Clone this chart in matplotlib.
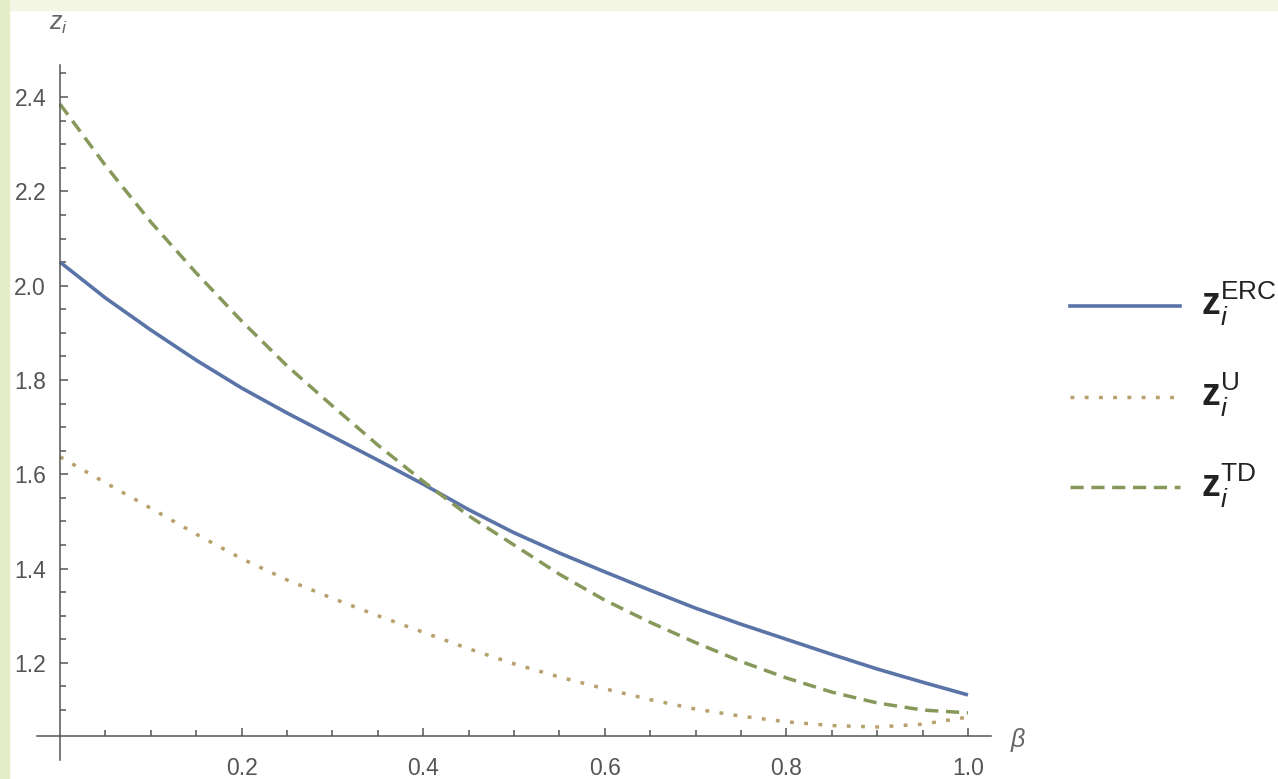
import matplotlib
matplotlib.use('Agg')
import matplotlib.pyplot as plt
from matplotlib.lines import Line2D
from matplotlib.patches import Rectangle
from matplotlib.ticker import FixedLocator

# values
beta = [0.0, 0.05, 0.1, 0.15, 0.2, 0.25, 0.3, 0.35, 0.4, 0.45, 0.5,
        0.55, 0.6, 0.65, 0.7, 0.75, 0.8, 0.85, 0.9, 0.95, 1.0]
z_erc = [2.050, 1.974, 1.906, 1.842, 1.783, 1.730, 1.680, 1.630, 1.579, 1.525, 1.476,
         1.433, 1.393, 1.354, 1.316, 1.282, 1.250, 1.218, 1.187, 1.159, 1.132]
z_u = [1.637, 1.582, 1.528, 1.473, 1.421, 1.376, 1.337, 1.300, 1.265, 1.230, 1.198,
       1.170, 1.145, 1.122, 1.102, 1.087, 1.075, 1.067, 1.064, 1.070, 1.085]
z_td = [2.385, 2.255, 2.135, 2.027, 1.925, 1.830, 1.745, 1.662, 1.585, 1.512, 1.450,
        1.388, 1.333, 1.286, 1.243, 1.203, 1.168, 1.138, 1.115, 1.100, 1.094]

x_ticks = [0.2, 0.4, 0.6, 0.8, 1.0]
x_ticklabels = ['0.2', '0.4', '0.6', '0.8', '1.0']
y_ticks = [1.2, 1.4, 1.6, 1.8, 2.0, 2.2, 2.4]
y_ticklabels = ['1.2', '1.4', '1.6', '1.8', '2.0', '2.2', '2.4']
x_minor = [0.05, 0.1, 0.15, 0.25, 0.3, 0.35, 0.45, 0.5, 0.55,
           0.65, 0.7, 0.75, 0.85, 0.9, 0.95]
y_minor = [1.1, 1.15, 1.25, 1.3, 1.35, 1.45, 1.5, 1.55, 1.65, 1.7, 1.75,
           1.85, 1.9, 1.95, 2.05, 2.1, 2.15, 2.25, 2.3, 2.35, 2.45]

labels = [r'$\mathbf{z}_{i}^{\mathrm{ERC}}$', r'$\mathbf{z}_{i}^{\mathrm{U}}$',
          r'$\mathbf{z}_{i}^{\mathrm{TD}}$']

plt.rcParams['font.family'] = ['Liberation Sans', 'DejaVu Sans']
plt.rcParams['mathtext.fontset'] = 'custom'
plt.rcParams['mathtext.rm'] = 'Liberation Sans'
plt.rcParams['mathtext.it'] = 'Liberation Sans:italic'
plt.rcParams['mathtext.bf'] = 'Liberation Sans:bold'

W, H = 1278, 779
fig = plt.figure(figsize=(W / 100, H / 100), dpi=100, facecolor='white')

# pale slide border (top and left strips)
fig.patches.append(Rectangle((0, 1 - 10 / H), 1, 10 / H, transform=fig.transFigure,
                             color='#f4f7e6', zorder=0))
fig.patches.append(Rectangle((0, 0), 9 / W, 1, transform=fig.transFigure,
                             color='#e3edc6', zorder=0))

ax = fig.add_axes([37.3 / W, 19 / H, (990.7 - 37.3) / W, (760 - 65) / H])
ax.patch.set_alpha(0)
ax.set_xlim(-0.025, 1.025)
ax.set_ylim(0.994, 2.468)

axis_col = '#555555'
for s in ['top', 'right']:
    ax.spines[s].set_visible(False)
ax.spines['left'].set_position(('data', 0))
ax.spines['bottom'].set_position(('data', 1.045))
for s in ['left', 'bottom']:
    ax.spines[s].set_color(axis_col)
    ax.spines[s].set_linewidth(1.1)

ax.set_xticks(x_ticks)
ax.set_xticklabels(x_ticklabels)
ax.set_yticks(y_ticks)
ax.set_yticklabels(y_ticklabels)
ax.xaxis.set_minor_locator(FixedLocator(x_minor))
ax.yaxis.set_minor_locator(FixedLocator(y_minor))
ax.tick_params(which='both', direction='in', color=axis_col, width=1.1,
               labelsize=16.5, labelcolor='#555555')
ax.tick_params(which='major', length=6)
ax.tick_params(which='minor', length=4.5)
ax.tick_params(axis='x', pad=15)
ax.tick_params(axis='y', pad=10)

c_erc, c_u, c_td = '#5b74a8', '#b8a06c', '#86995a'
ax.plot(beta, z_erc, color=c_erc, lw=2.6, solid_capstyle='butt')
ax.plot(beta, z_u, color=c_u, lw=2.5, linestyle=(0, (1.1, 3.0)))
ax.plot(beta, z_td, color=c_td, lw=2.5, linestyle=(0, (3.8, 2.2)))

# axis labels
fig.text(58 / W, 1 - 24 / H, r'$z_i$', ha='center', va='center', fontsize=18, color='#666666')
fig.text(1018 / W, 1 - 740 / H, r'$\beta$', ha='center', va='center', fontsize=18, color='#666666')

# legend
styles = [dict(color=c_erc, lw=2.6), dict(color=c_u, lw=2.5, linestyle=(0, (1.1, 3.0))),
          dict(color=c_td, lw=2.5, linestyle=(0, (3.8, 2.2)))]
rows = [306, 397, 487]
for lab, st, py in zip(labels, styles, rows):
    fig.add_artist(Line2D([1070 / W, 1180 / W], [1 - py / H, 1 - py / H],
                          transform=fig.transFigure, **st))
    fig.text(1201 / W, 1 - (py + 10) / H, lab, ha='left', va='baseline',
             fontsize=27, color='#222222')

fig.savefig('out.png', dpi=100, facecolor=fig.get_facecolor())
